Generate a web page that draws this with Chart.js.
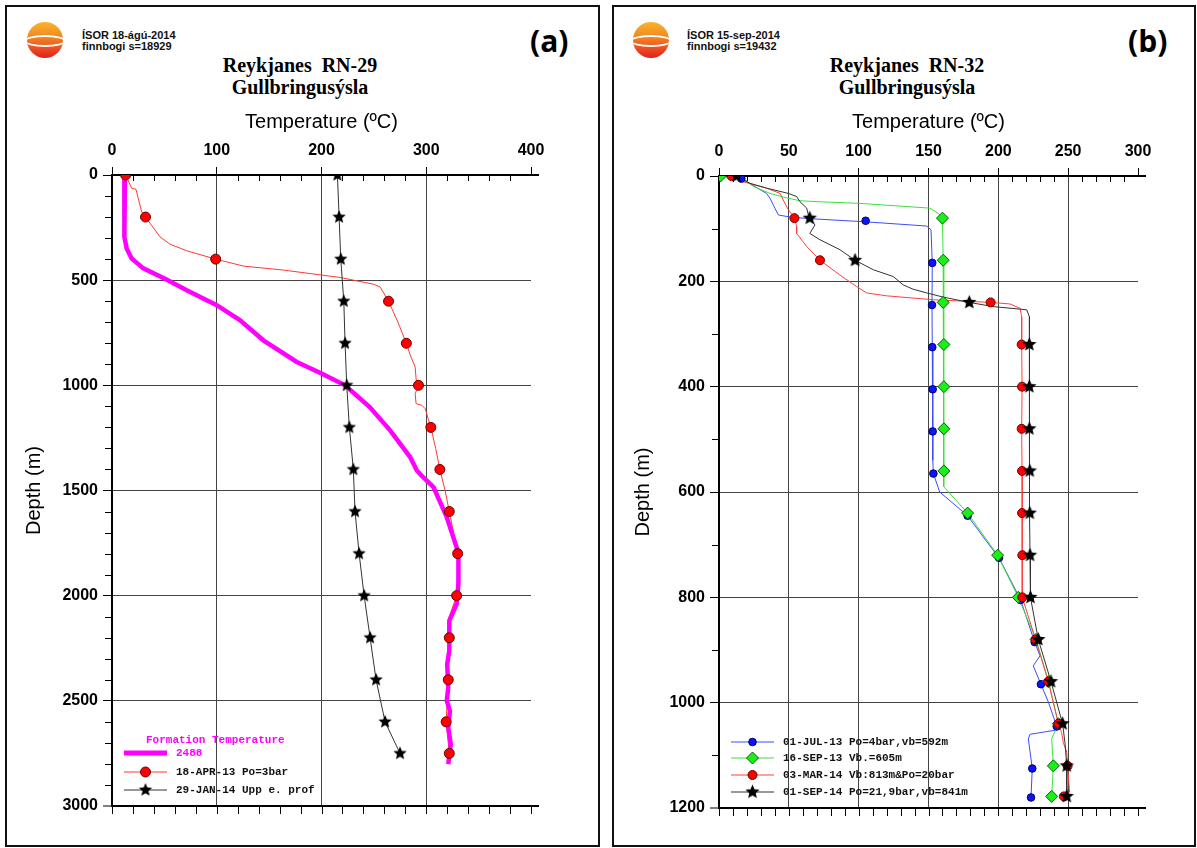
<!DOCTYPE html>
<html>
<head>
<meta charset="utf-8">
<script src="https://cdn.jsdelivr.net/npm/chart.js@4.4.1/dist/chart.umd.min.js"></script>
<style>
  body { margin: 0; width: 1197px; height: 848px; position: relative; overflow: hidden; background: #fff;
         font-family: 'Liberation Sans', Arial, sans-serif; }
  .frame { position: absolute; top: 5px; height: 842px; border: 2px solid #111; box-sizing: border-box; }
  canvas { position: absolute; top: 0; }
  .logo { position: absolute; width: 36px; height: 36px; border-radius: 50%; overflow: hidden;
          background: linear-gradient(#f8b42c 0%, #f28a22 40%, #ec4a22 75%, #e0201e 100%); }
  .logo::after { content: ''; position: absolute; left: -3px; right: -3px; top: 13px; height: 8px;
                 border: 2px solid #fff; border-radius: 50%; }
  .stamp { position: absolute; font-size: 11px; line-height: 11px; font-weight: bold; color: #111; }
  .tag { position: absolute; font-family: 'Open Sans', sans-serif; font-weight: bold; font-size: 30px; line-height: 34px; }
  .head { position: absolute; width: 300px; text-align: center; font-family: 'Liberation Serif', 'Times New Roman', serif;
          font-weight: bold; font-size: 20px; line-height: 22px; white-space: pre; }
</style>
</head>
<body>
<div class="frame" style="left:5px; width:595px;"></div>
<div class="frame" style="left:612px; width:584px;"></div>

<div class="logo" style="left:27px; top:22px;"></div>
<div class="stamp" style="left:82px; top:30px;">ÍSOR 18-ágú-2014<br>finnbogi s=18929</div>
<div class="tag" style="left:530px; top:24px;">(a)</div>
<div class="head" style="left:150px; top:54px;">Reykjanes  RN-29<br>Gullbringusýsla</div>

<div class="logo" style="left:633px; top:22px;"></div>
<div class="stamp" style="left:687px; top:30px;">ÍSOR 15-sep-2014<br>finnbogi s=19432</div>
<div class="tag" style="left:1128px; top:24px;">(b)</div>
<div class="head" style="left:757px; top:54px;">Reykjanes  RN-32<br>Gullbringusýsla</div>

<canvas id="rn29" width="605" height="848" style="left:0;"></canvas>
<canvas id="rn32" width="592" height="848" style="left:605px;"></canvas>

<script>
// RN-29: formation temperature estimate
const formationDepth = [0, 294, 349, 397, 444, 497, 548, 619, 690, 786, 889, 944, 1000, 1103, 1214, 1341, 1405, 1437,
  1484, 1627, 1770, 1817, 1944, 2040, 2119, 2262, 2325, 2437, 2500, 2548, 2627, 2706, 2801];
const formationTemp = [12.4, 11.8, 14, 18.8, 29.9, 52, 71.3, 100, 122, 144.5, 176.4, 200, 222.5, 246, 265.5, 284.6, 291, 297,
  306.9, 319.6, 329, 330.7, 330.7, 329, 322, 322, 320, 321, 319.6, 322.6, 321, 323.4, 321];

// RN-29: 18-APR-13 log and its 200 m markers
const apr13Depth = [0, 63, 68, 175, 200, 294, 329, 360, 400, 433, 452, 487, 500, 519, 532, 600, 700, 800, 860, 913, 980,
  1000, 1040, 1087, 1095, 1111, 1200, 1300, 1400, 1500, 1600, 1700, 1800, 1900, 2000, 2100, 2200, 2300, 2400, 2500,
  2600, 2700, 2750];
const apr13Temp = [13, 18.8, 22.9, 28.3, 32, 45.8, 55.4, 71.3, 99, 125.4, 163.6, 217.7, 230.4, 249.5, 255.9, 264, 273,
  281, 285, 289.4, 290.5, 292.6, 289.4, 290.3, 295.8, 299, 304.4, 309, 313, 318, 322, 326, 330, 330, 329, 322, 322, 321,
  321, 320, 319, 321, 322];
const apr13MarkDepth = [0, 200, 400, 600, 800, 1000, 1200, 1400, 1600, 1800, 2000, 2200, 2400, 2600, 2750];
const apr13MarkTemp = [13, 32, 99, 264, 281, 292.6, 304.4, 313, 322, 330, 329, 322, 321, 319, 322];

// RN-29: 29-JAN-14 profile
const jan14Depth = [0, 200, 400, 600, 800, 1000, 1200, 1400, 1600, 1800, 2000, 2200, 2400, 2600, 2750];
const jan14Temp = [215.2, 216.8, 218.4, 221.3, 222.5, 224.1, 226.6, 230.4, 232, 235.9, 240.7, 246.4, 252.1, 260.7, 275];

// RN-32: 01-JUL-13
const jul13Depth = [5, 33, 42, 61, 74, 78, 81, 87, 95, 102, 165, 245, 325, 405, 485, 540, 565, 600, 645, 690, 725, 805,
  885, 911, 930, 965, 1000, 1045, 1051, 1060, 1069, 1125, 1180];
const jul13Temp = [16, 34, 36.5, 40, 42.5, 51, 65, 105, 148.7, 151.8, 152.7, 152.5, 152.7, 153, 153, 153.2, 153.5, 158,
  178, 190.5, 200.5, 216, 226, 229.8, 225, 230.5, 236, 241.8, 244, 222.7, 221.5, 224.3, 223.4];
const jul13MarkDepth = [5, 85, 165, 245, 325, 405, 485, 565, 645, 725, 805, 885, 965, 1045, 1125, 1180];
const jul13MarkTemp = [16, 105, 152.7, 152.5, 152.7, 153, 153, 153.5, 178, 200.5, 216, 226, 230.5, 241.8, 224.3, 223.4];

// RN-32: 16-SEP-13
const sep13Depth = [0, 9, 20, 33, 40, 47, 49, 52, 61, 71, 80, 160, 240, 320, 400, 480, 560, 590, 640, 720, 800, 880,
  960, 1040, 1068, 1120, 1178];
const sep13Temp = [1, 19.8, 24.6, 36.5, 46, 58, 72.3, 101, 151, 157, 160, 160.5, 160.5, 161, 161, 161, 161, 161, 178,
  199.5, 214.3, 227, 236, 243, 238.2, 239.4, 238.2];
const sep13MarkDepth = [0, 80, 160, 240, 320, 400, 480, 560, 640, 720, 800, 880, 960, 1040, 1120, 1178];
const sep13MarkTemp = [1, 160, 160.5, 160.5, 161, 161, 161, 161, 178, 199.5, 214.3, 227, 236, 243, 239.4, 238.2];

// RN-32: 03-MAR-14
const mar14Depth = [0, 11, 23, 33, 45.5, 64, 80, 96, 109, 134, 160, 188, 210, 222, 227.5, 235, 240, 243, 251, 267, 320,
  400, 480, 560, 640, 720, 800, 880, 960, 1040, 1057, 1076, 1094, 1120, 1170, 1178];
const mar14Temp = [9, 17.4, 34, 43.7, 46, 49.6, 54, 55.6, 55.6, 62.8, 72.3, 86.6, 98.6, 105.7, 120, 153.4, 194.5, 208.4,
  215.5, 216.7, 216.7, 217, 216.7, 217, 217, 217.2, 217.2, 226.7, 235.8, 243, 245.3, 246.5, 249, 249.6, 251, 247];
const mar14MarkDepth = [0, 80, 160, 240, 320, 400, 480, 560, 640, 720, 800, 880, 960, 1040, 1120, 1178];
const mar14MarkTemp = [9, 54, 72.3, 194.5, 216.7, 217, 216.7, 217, 217, 217.2, 217.2, 226.7, 235.8, 243, 249.6, 247];

// RN-32: 01-SEP-14
const sep14Depth = [0, 14, 23, 33, 39, 49, 61, 74, 80, 93, 109, 121, 140, 160, 178, 191, 207, 215, 222, 230, 240, 248,
  254, 267, 320, 400, 480, 560, 640, 720, 800, 880, 960, 1040, 1076, 1120, 1178];
const sep14Temp = [12.7, 22.2, 34, 49.6, 55.6, 58, 62.8, 64, 65, 68.7, 65, 72.3, 86.6, 97.4, 110.5, 124.8, 132, 139,
  148.7, 160.6, 179.2, 196.4, 220.3, 222.2, 222.2, 222.2, 222.2, 222.5, 222.5, 222.7, 223, 228.6, 237.7, 246, 247.7, 249, 249];
const sep14MarkDepth = [0, 80, 160, 240, 320, 400, 480, 560, 640, 720, 800, 880, 960, 1040, 1120, 1178];
const sep14MarkTemp = [12.7, 65, 97.4, 179.2, 222.2, 222.2, 222.2, 222.5, 222.5, 222.7, 223, 228.6, 237.7, 246, 249, 249];

const SANS = "'Liberation Sans', Arial, sans-serif";
const MONO = "bold 11px 'Liberation Mono', monospace";

const pts = (t, d) => t.map((v, i) => ({ x: v, y: d[i] }));

function starImage(r) {
  const c = document.createElement('canvas');
  const s = Math.ceil(r * 2 + 2);
  c.width = c.height = s;
  const g = c.getContext('2d');
  g.beginPath();
  for (let i = 0; i < 10; i++) {
    const rad = i % 2 ? r * 0.45 : r;
    const a = -Math.PI / 2 + i * Math.PI / 5;
    g.lineTo(s / 2 + rad * Math.cos(a), s / 2 + rad * Math.sin(a));
  }
  g.closePath();
  g.fillStyle = '#000';
  g.fill();
  return c;
}

function lineSet(t, d, color, width) {
  return { data: pts(t, d), showLine: true, borderColor: color, borderWidth: width, pointRadius: 0,
           fill: false, tension: 0, clip: 0 };
}

function markSet(t, d, style, radius, fill, stroke) {
  return { data: pts(t, d), showLine: false, pointStyle: style, pointRadius: radius,
           backgroundColor: fill, borderColor: stroke, borderWidth: 1, clip: 0 };
}

// minor ticks on top/left, plus the bottom axis with its own ticks
const tickMarks = {
  id: 'tickMarks',
  beforeDatasetsDraw(chart, args, o) {
    const { ctx, chartArea: a, scales: { x, y } } = chart;
    ctx.save();
    ctx.strokeStyle = '#000';
    ctx.lineWidth = 1;
    ctx.beginPath();
    for (let v = 0; v <= x.max + 0.01; v += o.xMinor) {
      const px = Math.round(x.getPixelForValue(v)) + 0.5;
      if (v % o.xStep !== 0) { ctx.moveTo(px, a.top); ctx.lineTo(px, a.top + 6); }
      ctx.moveTo(px, a.bottom); ctx.lineTo(px, a.bottom + 8);
    }
    for (let v = 0; v <= y.max; v += o.yMinor) {
      if (v % o.yStep === 0) continue;
      const py = Math.round(y.getPixelForValue(v)) + 0.5;
      ctx.moveTo(a.left, py); ctx.lineTo(a.left - 7, py);
    }
    ctx.stroke();
    ctx.lineWidth = 2;
    ctx.beginPath();
    ctx.moveTo(a.left - 1, a.bottom);
    ctx.lineTo(x.getPixelForValue(x.max) + o.xOver, a.bottom);
    ctx.moveTo(x.getPixelForValue(x.max), a.top);
    ctx.lineTo(x.getPixelForValue(x.max) + o.xOver, a.top);
    ctx.stroke();
    ctx.restore();
  }
};

// legend block drawn inside the lower-left corner of the plot
const boxLegend = {
  id: 'boxLegend',
  afterDatasetsDraw(chart, args, o) {
    const { ctx, chartArea: a } = chart;
    ctx.save();
    ctx.font = MONO;
    ctx.textBaseline = 'middle';
    o.rows.forEach(r => {
      const yy = a.bottom + r.dy;
      if (r.line) {
        ctx.strokeStyle = r.line;
        ctx.lineWidth = r.width || 1;
        ctx.beginPath();
        ctx.moveTo(a.left + 12, yy);
        ctx.lineTo(a.left + 55, yy);
        ctx.stroke();
      }
      if (r.marker) {
        ctx.fillStyle = r.marker.fill || '#000';
        ctx.strokeStyle = r.marker.stroke || '#000';
        ctx.lineWidth = 1;
        Chart.helpers.drawPoint(ctx, { pointStyle: r.marker.style, radius: r.marker.radius, borderWidth: 1 },
          a.left + 33.5, yy);
      }
      ctx.fillStyle = r.color || '#111';
      ctx.fillText(r.text, a.left + (r.tx || 64), yy);
    });
    ctx.restore();
  }
};

function depthOptions(o) {
  const gridColor = '#444';
  return {
    responsive: false,
    animation: false,
    events: [],
    layout: { padding: o.padding },
    plugins: {
      legend: { display: false },
      tooltip: { enabled: false },
      tickMarks: { xMinor: o.xMinor, xStep: o.xStep, yMinor: o.yMinor, yStep: o.yStep, xOver: o.xOver },
      boxLegend: { rows: o.legend }
    },
    scales: {
      x: {
        type: 'linear', position: 'top', min: 0, max: o.xMax,
        afterFit: s => { s.height = o.xHeight; },
        ticks: { stepSize: o.xStep, padding: 7, color: '#000', includeBounds: false,
                 callback: v => String(v), font: { family: SANS, size: 16, weight: 'bold' } },
        grid: { color: c => (c.tick.value === 0 || c.tick.value === o.xMax) ? 'rgba(0,0,0,0)' : gridColor,
                lineWidth: 1, tickLength: 8, tickColor: '#000', tickWidth: 1 },
        border: { display: true, color: '#000', width: 2 },
        title: { display: true, text: 'Temperature (ºC)', color: '#000', font: { family: SANS, size: 20 },
                 padding: { top: 10, bottom: 0 } }
      },
      y: {
        type: 'linear', reverse: true, min: 0, max: o.yMax,
        afterFit: s => { s.width = o.yWidth; },
        ticks: { stepSize: o.yStep, padding: 5, color: '#000', callback: v => String(v),
                 font: { family: SANS, size: 16, weight: 'bold' } },
        grid: { color: c => c.tick.value === 0 ? 'rgba(0,0,0,0)' : (c.tick.value === o.yMax ? '#000' : gridColor),
                lineWidth: c => c.tick.value === o.yMax ? 2 : 1,
                tickLength: 9, tickColor: '#000', tickWidth: 1 },
        border: { display: true, color: '#000', width: 2 },
        title: { display: true, text: 'Depth (m)', color: '#000', font: { family: SANS, size: 20 },
                 padding: { top: o.yTitlePad, bottom: 0 } }
      }
    }
  };
}

Chart.register(tickMarks, boxLegend);

const starA = starImage(7);
const starB = starImage(7.5);

new Chart(document.getElementById('rn29'), {
  type: 'scatter',
  data: {
    datasets: [
      markSet(jan14Temp, jan14Depth, starA, 7, '#000', '#000'),
      markSet(apr13MarkTemp, apr13MarkDepth, 'circle', 5, '#ff0000', '#6a0000'),
      lineSet(formationTemp, formationDepth, '#ff00ff', 4.5),
      lineSet(jan14Temp, jan14Depth, '#333', 1),
      lineSet(apr13Temp, apr13Depth, '#ff3a30', 1)
    ]
  },
  options: depthOptions({
    padding: { left: 10, right: 74, top: 100, bottom: 42 }, xHeight: 75, yWidth: 102, yTitlePad: 12,
    xMax: 400, xStep: 100, xMinor: 20, yMax: 3000, yStep: 500, yMinor: 100, xOver: 8,
    legend: [
      { dy: -66, text: 'Formation Temperature', color: '#ff00ff', tx: 34 },
      { dy: -53, text: '2488', color: '#ff00ff', line: '#ff00ff', width: 5 },
      { dy: -34, text: '18-APR-13 Po=3bar', line: '#ff3a30',
        marker: { style: 'circle', radius: 5, fill: '#ff0000', stroke: '#6a0000' } },
      { dy: -16, text: '29-JAN-14 Upp e. prof', line: '#333', marker: { style: starA, radius: 7 } }
    ]
  })
});

new Chart(document.getElementById('rn32'), {
  type: 'scatter',
  data: {
    datasets: [
      markSet(sep14MarkTemp, sep14MarkDepth, starB, 7, '#000', '#000'),
      markSet(mar14MarkTemp, mar14MarkDepth, 'circle', 4.5, '#ff0000', '#6a0000'),
      markSet(sep13MarkTemp, sep13MarkDepth, 'rectRot', 6, '#18f018', '#0a5a0a'),
      markSet(jul13MarkTemp, jul13MarkDepth, 'circle', 3.8, '#0a14ff', '#00005a'),
      lineSet(sep14Temp, sep14Depth, '#333', 1),
      lineSet(mar14Temp, mar14Depth, '#ff4040', 1),
      lineSet(sep13Temp, sep13Depth, '#3ce03c', 1),
      lineSet(jul13Temp, jul13Depth, '#3a4cff', 1)
    ]
  },
  options: depthOptions({
    padding: { left: 8, right: 59, top: 100, bottom: 40 }, xHeight: 76, yWidth: 106, yTitlePad: 18,
    xMax: 300, xStep: 50, xMinor: 10, yMax: 1200, yStep: 200, yMinor: 100, xOver: 8,
    legend: [
      { dy: -66, text: '01-JUL-13 Po=4bar,vb=592m', line: '#3a4cff',
        marker: { style: 'circle', radius: 3.8, fill: '#0a14ff', stroke: '#00005a' } },
      { dy: -50, text: '16-SEP-13 Vb.=605m', line: '#3ce03c',
        marker: { style: 'rectRot', radius: 6, fill: '#18f018', stroke: '#0a5a0a' } },
      { dy: -33, text: '03-MAR-14 Vb:813m&Po=20bar', line: '#ff4040',
        marker: { style: 'circle', radius: 4.5, fill: '#ff0000', stroke: '#6a0000' } },
      { dy: -16, text: '01-SEP-14 Po=21,9bar,vb=841m', line: '#333', marker: { style: starB, radius: 7 } }
    ]
  })
});
</script>
</body>
</html>
